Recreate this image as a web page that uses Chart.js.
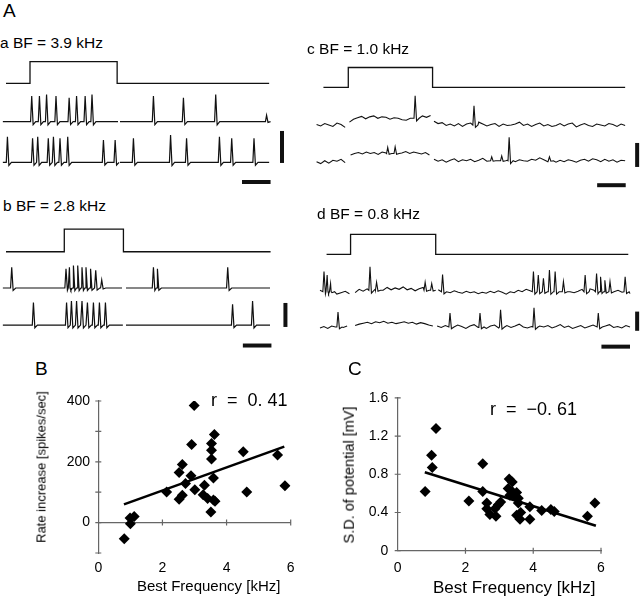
<!DOCTYPE html>
<html>
<head>
<meta charset="utf-8">
<script src="https://cdn.jsdelivr.net/npm/chart.js@4.4.1/dist/chart.umd.min.js"></script>
<style>
  body { margin: 0; background: #fff; }
  #fig { position: relative; width: 640px; height: 596px; overflow: hidden;
         font-family: "Liberation Sans", Arial, sans-serif; color: #000; }
  #fig canvas { position: absolute; }
  .t { position: absolute; white-space: pre; line-height: 1; }
  .rot { position: absolute; white-space: pre; line-height: 1; transform: translate(-50%, -50%) rotate(-90deg); }
</style>
</head>
<body>
<div id="fig">
  <canvas id="ca" width="290" height="135" style="left:0;top:55px"></canvas>
  <canvas id="cb" width="290" height="135" style="left:0;top:215px"></canvas>
  <canvas id="cc" width="330" height="135" style="left:310px;top:55px"></canvas>
  <canvas id="cd" width="330" height="135" style="left:310px;top:215px"></canvas>
  <canvas id="cB" width="320" height="216" style="left:0;top:380px"></canvas>
  <canvas id="cC" width="320" height="216" style="left:320px;top:380px"></canvas>

  <div class="t" style="left:3px;top:1px;font-size:19px">A</div>
  <div class="t" style="left:0px;top:35px;font-size:15.5px">a BF = 3.9 kHz</div>
  <div class="t" style="left:3px;top:198px;font-size:15.5px">b BF = 2.8 kHz</div>
  <div class="t" style="left:307px;top:41px;font-size:15.5px">c BF = 1.0 kHz</div>
  <div class="t" style="left:317px;top:206px;font-size:15.5px">d BF = 0.8 kHz</div>

  <div class="t" style="left:35px;top:359px;font-size:19px">B</div>
  <div class="t" style="left:348px;top:359px;font-size:19px">C</div>
  <div class="t" style="left:211px;top:391px;font-size:18px">r  =  0. 41</div>
  <div class="t" style="left:490px;top:400px;font-size:18px">r  =  −0. 61</div>
  <div class="rot" style="left:41px;top:467px;font-size:13px">Rate increase [spikes/sec]</div>
  <div class="rot" style="left:349px;top:475px;font-size:14.5px">S.D. of potential [mV]</div>
  <div class="t" style="left:137px;top:578px;font-size:15px">Best Frequency [kHz]</div>
  <div class="t" style="left:433px;top:579px;font-size:17px">Best Frequency [kHz]</div>
</div>

<script>
Chart.defaults.font.family = '"Liberation Sans", Arial, sans-serif';
Chart.defaults.color = '#000';

// ---------- A: example recordings (t in ms, v in mV above resting level) ----------
// tone marker: [trace start, tone on, tone off, trace end]
const toneA = [21, 105, 410, 942];
const toneB = [21, 225, 432, 947];
const toneC = [47, 134, 429, 1103];
const toneD = [58, 142, 440, 1114];

// a  BF = 3.9 kHz
const aRec1Segs = [[10, 413], [420, 942]];
const aRec1Spikes = [111, 138, 163, 196, 242, 268, 298, 322, 537, 642, 755, 933];
const aRec1Amps = [16, 16, 17, 16, 15, 16, 16, 17, 16, 15, 17, 4];
const aRec2Segs = [[10, 413], [420, 942]];
const aRec2Spikes = [26, 114, 132, 169, 187, 210, 237, 362, 403, 467, 597, 653, 768, 811, 889];
const aRec2Amps = [16, 15, 16, 15, 16, 15, 16, 14, 14, 15, 17, 15, 16, 15, 15];

// b  BF = 2.8 kHz
const bRec1Segs = [[10, 427], [441, 945]];
const bRec1Spikes = [41, 231, 243, 257, 272, 287, 301, 317, 335, 356, 537, 551, 797];
const bRec1Amps = [13, 12, 13, 14, 14, 13, 13, 12, 11, 5, 13, 12, 13];
const bRec2Segs = [[10, 430], [441, 945]];
const bRec2Spikes = [117, 233, 250, 268, 287, 306, 327, 348, 369, 814, 884];
const bRec2Amps = [14, 14, 15, 15, 15, 14, 14, 14, 14, 13, 15];

// c  BF = 1.0 kHz (pre, tone, post pieces)
const cRec1Segs = [[23, 123], [138, 422], [434, 1103]];
const cRec1Base = [0, 1.4, 0];
const cRec1Noise = [
  [0.1, -0.2, 0.3, 0, -0.3, 0.4, 0.1, -0.5],
  [-0.8, -0.2, 0.1, 0.4, -0.1, 0.3, 0.5, 0, 0.3, 0.2, -0.2, 0.1, 0, -0.3, -0.4, 0, -0.2, 0.3, 0.5, 0.2, 0.6],
  [0.8, 0.3, 0.5, -0.1, 0.2, -0.2, 0.3, -0.3, 0.2, 0.4, -0.1, 0.6, 0.2, -0.2, 0.1, 0.3, -0.3, 0.2, -0.1, 0,
   0.2, 0.6, -0.1, 0.2, -0.3, 0.1, 0.4, -0.2, 0.1, -0.3, -0.1, 0.3, -0.2, 0.2, 0.4, -0.4, 0, 0.3, -0.1, -0.3,
   0.2, 0, -0.2, 0.3, 0.1, -0.3, 0.2, -0.1]
];
const cRec1Spikes = [368, 574];
const cRec1Amps = [4.7, 4.0];
const cRec2Segs = [[23, 123], [142, 418], [434, 1103]];
const cRec2Base = [0, 1.7, 0.2];
const cRec2Noise = [
  [0, -0.4, 0.2, -0.3, 0.3, 0.1, 0.5, -0.2],
  [-0.3, 0, 0.2, -0.1, 0.3, 0, 0.2, -0.2, 0.3, 0.1, 0.2, 0.1, 0.4, 0.1, 0.4, 0, 0.3, 0.1, -0.1, 0.2, -0.3],
  [0.3, -0.1, 0.2, -0.3, 0.1, 0.4, -0.2, 0.2, 0, 0.3, -0.2, 0.1, 0.5, -0.1, 0.2, 0.6, 0, -0.3, 0.1, 0.3,
   -0.2, 0.2, 0, -0.1, 0.3, 0.1, 0.6, 0.2, -0.2, 0, -0.3, 0.1, -0.2, 0.2, 0, -0.3, 0.1, 0.3, -0.1, 0.4,
   0.2, -0.2, 0.3, -0.1, 0.2, -0.3, 0.1, 0]
];
const cRec2Spikes = [272, 298, 636, 671, 697, 838];
const cRec2Amps = [1.3, 1.4, 0.8, 1.0, 4.9, 0.8];

// d  BF = 0.8 kHz
const dRec1Segs = [[35, 138], [158, 438], [449, 1120]];
const dRec1Base = [0, 0.3, 0];
const dRec1Noise = [
  [0.3, 0, 0.4, -0.3, -0.5, -0.2, 0.1, -0.4],
  [-0.5, 0.2, -0.2, 0.3, 0.6, 0.2, 0.5, 0, 0.6, 0.1, 0.5, 0.2, 0.7, 0.1, 0.4, -0.1, 0.3, 0.6, 0, 0.5, 0.2],
  [0.4, 0.5, 0, -0.2, 0.2, -0.1, -0.3, 0.1, -0.2, 0, -0.4, -0.1, -0.3, 0.1, -0.2, 0.2, -0.1, -0.5, 0, -0.2,
   0.3, 0, 0.5, 0.2, 0.4, 0.1, 0.6, 0.3, 0.2, 0.5, 0, -0.1, 0.3, 0, -0.2, 0.1, 0.5, 0.2, 0.6, 0.3,
   0.4, 0.7, 0.2, 0.6, 0.1, 0.3, -0.1, 0, -0.4]
];
const dRec1Spikes = [49, 60, 72, 210, 233, 403, 426, 464, 782, 799, 817, 838, 858, 887, 963, 1003, 1017, 1032, 1050, 1103];
const dRec1Amps = [4.2, 3.5, 1.7, 4.9, 1.7, 1.7, 1.4, 3.6, 4.2, 3.5, 2.8, 4.5, 4.2, 2.1, 3.5, 3.8, 3.1, 2.4, 2.1, 3.1];
const dRec2Segs = [[35, 130], [158, 430], [445, 1120]];
const dRec2Base = [0, 0.6, 0];
const dRec2Noise = [
  [-0.2, 0.1, -0.3, 0.2, 0, 0.4, -0.1, 0.2],
  [-0.3, 0, 0.2, 0.4, 0.1, 0.5, 0.3, 0.6, 0.2, 0.4, 0.1, 0.3, 0.5, 0.2, 0.4, 0, 0.3, 0.1, -0.2, -0.4],
  [0.2, -0.1, 0.3, 0, -0.2, 0.4, 0.1, -0.3, 0.2, 0.5, -0.1, 0.1, -0.3, 0.2, 0.4, -0.2, 0, 0.3, -0.1, 0.2,
   0.6, 0, -0.2, 0.1, -0.4, 0.2, 0, 0.3, -0.2, 0.1, 0.5, -0.1, 0.2, -0.3, 0, 0.3, -0.2, 0.1, 0.4, 0,
   -0.3, 0.2, 0.5, -0.1, 0.1, -0.2, 0.3, 0]
];
const dRec2Spikes = [98, 490, 595, 667, 784, 1009];
const dRec2Amps = [3.1, 2.9, 2.9, 3.6, 4.0, 2.9];

// scale bars
const barMs = 100;
const barMvA = 20, barMvB = 15, barMvC = 5, barMvD = 4;

// ---------- B, C: population data ----------
const bfRate = [2.99, 3.62, 2.91, 3.53, 3.53, 3.53, 4.52, 5.59, 2.62, 2.52, 2.89, 3.59, 2.72, 3.31, 3.01,
                2.13, 2.62, 2.52, 3.27, 3.41, 3.59, 3.64, 4.63, 5.82, 3.51, 1.12, 0.99, 1.0, 0.81];
const rateIncrease = [385, 290, 257, 260, 238, 209, 233, 222, 191, 165, 154, 147, 129, 123, 108,
                      101, 90, 77, 92, 79, 74, 70, 101, 121, 35, 20, 15, -4, -53];
const fitRateX = [0.8, 5.8];
const fitRateY = [60, 250];

const bfSD = [1.13, 1.0, 1.02, 0.81, 2.51, 2.51, 2.1, 3.29, 3.38, 3.26, 3.38, 3.51, 3.31, 3.46, 3.56, 3.56, 2.63,
              2.63, 3.04, 2.97, 2.87, 2.72, 2.9, 3.9, 3.63, 3.51, 3.61, 3.9, 4.25, 4.52, 4.62, 5.6, 5.82];
const sdPotential = [1.28, 1.0, 0.87, 0.62, 0.91, 0.62, 0.52, 0.75, 0.72, 0.65, 0.62, 0.61, 0.58, 0.57, 0.55, 0.5, 0.5,
                     0.44, 0.51, 0.48, 0.44, 0.38, 0.36, 0.46, 0.4, 0.37, 0.33, 0.33, 0.42, 0.43, 0.41, 0.36, 0.5];
const fitSdX = [0.8, 5.85];
const fitSdY = [0.82, 0.26];

// ---------- helpers ----------
const MS_PER_PX = 3.5;

function tonePts([t0, on, off, t1], step, offset) {
  return [{x: t0, y: offset}, {x: on, y: offset}, {x: on, y: offset + step},
          {x: off, y: offset + step}, {x: off, y: offset}, {x: t1, y: offset}];
}

// one recording: pieces of trace, each with its own level and noise, spikes inserted
function trace(segs, bases, noise, spikes, amps, offset) {
  const pts = [];
  segs.forEach(([t0, t1], k) => {
    const n = noise ? noise[k] : [0, 0];
    const b = offset + (bases ? bases[k] : 0);
    const dt = (t1 - t0) / (n.length - 1);
    const seg = [];
    n.forEach((v, i) => {
      const t = t0 + i * dt;
      if (!spikes.some(s => t > s - 5 && t < s + 15)) seg.push({x: t, y: b + v});
    });
    spikes.forEach((s, j) => {
      if (s < t0 || s > t1) return;
      const a = amps[j];
      seg.push({x: s - 4, y: b}, {x: s, y: b + a}, {x: s + 5, y: b - 0.12 * a}, {x: s + 14, y: b});
    });
    seg.sort((p, q) => p.x - q.x);
    if (k) pts.push({x: t0 - 1, y: null});
    pts.push(...seg);
  });
  return pts;
}

const line = (data, w) => ({data, showLine: true, borderColor: '#111', borderWidth: w, spanGaps: false});

function recordingChart(id, mvPerPx, datasets) {
  const cv = document.getElementById(id);
  return new Chart(cv, {
    type: 'scatter',
    data: {datasets},
    options: {
      responsive: false, animation: false, events: [],
      layout: {padding: 0},
      elements: {point: {radius: 0}, line: {tension: 0}},
      plugins: {legend: {display: false}, tooltip: {enabled: false}},
      scales: {
        x: {display: false, min: 0, max: cv.width * MS_PER_PX},
        y: {display: false, min: 0, max: cv.height * mvPerPx}
      }
    }
  });
}

function scaleBars(tV, vV, mv, tH, vH) {
  return [line([{x: tV, y: vV}, {x: tV, y: vV + mv}], 4),
          line([{x: tH, y: vH}, {x: tH + barMs, y: vH}], 4)];
}

recordingChart('ca', 0.625, [
  line(tonePts(toneA, 13.5, 66.7), 1.3),
  line(trace(aRec1Segs, null, null, aRec1Spikes, aRec1Amps, 42.7), 1.2),
  line(trace(aRec2Segs, null, null, aRec2Spikes, aRec2Amps, 17.3), 1.2),
  ...scaleBars(987, 16.9, barMvA, 847, 5.0)
]);
recordingChart('cb', 0.625, [
  line(tonePts(toneB, 14.2, 61.4), 1.3),
  line(trace(bRec1Segs, null, null, bRec1Spikes, bRec1Amps, 38.75), 1.2),
  line(trace(bRec2Segs, null, null, bRec2Spikes, bRec2Amps, 15.6), 1.2),
  ...scaleBars(999, 14.4, barMvB, 850, 2.8)
]);
recordingChart('cc', 5 / 24, [
  line(tonePts(toneC, 4.12, 21.4), 1.3),
  line(trace(cRec1Segs, cRec1Base, cRec1Noise, cRec1Spikes, cRec1Amps, 13.54), 1.1),
  line(trace(cRec2Segs, cRec2Base, cRec2Noise, cRec2Spikes, cRec2Amps, 5.9), 1.1),
  ...scaleBars(1145, 4.8, barMvC, 1005, 1.0)
]);
recordingChart('cd', 5 / 24, [
  line(tonePts(toneD, 4.17, 19.93), 1.3),
  line(trace(dRec1Segs, dRec1Base, dRec1Noise, dRec1Spikes, dRec1Amps, 12.14), 1.1),
  line(trace(dRec2Segs, dRec2Base, dRec2Noise, dRec2Spikes, dRec2Amps, 4.79), 1.1),
  ...scaleBars(1145, 4.0, barMvD, 1020, 0.7)
]);

// tick marks that cross the axis lines (x ticks on y = 0, y ticks on x = 0)
const crossTicks = {
  id: 'crossTicks',
  afterDraw(chart, args, opts) {
    const {ctx, scales} = chart;
    const xAt = scales.x.getPixelForValue(0), yAt = scales.y.getPixelForValue(0);
    ctx.save();
    ctx.strokeStyle = opts.color;
    ctx.lineWidth = opts.width;
    ctx.beginPath();
    scales.y.ticks.forEach(t => {
      const p = scales.y.getPixelForValue(t.value);
      ctx.moveTo(xAt - opts.size, p); ctx.lineTo(xAt + opts.size, p);
    });
    scales.x.ticks.forEach(t => {
      if (t.value === 0) return;
      const p = scales.x.getPixelForValue(t.value);
      ctx.moveTo(p, yAt - opts.size); ctx.lineTo(p, yAt + opts.size);
    });
    ctx.stroke();
    ctx.restore();
  }
};

const axisColor = '#666';
const tickFont = {size: 14};
const noGrid = {display: false, drawTicks: false};

function scatterChart(id, xs, ys, fx, fy, pad, scales) {
  return new Chart(document.getElementById(id), {
    type: 'scatter',
    data: {
      datasets: [
        {data: xs.map((x, i) => ({x, y: ys[i]})), pointStyle: 'rectRot', pointRadius: 5.5,
         backgroundColor: '#000', borderWidth: 0},
        {data: fx.map((x, i) => ({x, y: fy[i]})), showLine: true, pointRadius: 0,
         borderColor: '#000', borderWidth: 2.6}
      ]
    },
    options: {
      responsive: false, animation: false, events: [],
      layout: {padding: pad},
      plugins: {legend: {display: false}, tooltip: {enabled: false},
                crossTicks: {size: 3, width: 1.2, color: axisColor}},
      scales
    },
    plugins: [crossTicks]
  });
}

scatterChart('cB', bfRate, rateIncrease, fitRateX, fitRateY,
  {left: 0, right: 29.3, top: 21, bottom: 0}, {
    x: {type: 'linear', min: 0, max: 6, position: 'bottom',
        afterFit: s => { s.height = 43; },
        grid: noGrid, border: {display: false},
        ticks: {stepSize: 2, padding: 7, font: tickFont, color: '#000'}},
    x0: {type: 'linear', min: 0, max: 6, position: {y: 0},
         grid: noGrid, border: {color: axisColor, width: 1.2},
         ticks: {display: false, stepSize: 2}},
    y: {type: 'linear', min: -100, max: 400,
        afterFit: s => { s.width = 98.3; },
        grid: noGrid, border: {color: axisColor, width: 1.2},
        ticks: {stepSize: 100, padding: 8.3, font: tickFont, color: '#000',
                callback: v => (v >= 0 && v % 200 === 0) ? v : ''}}
  });

scatterChart('cC', bfSD, sdPotential, fitSdX, fitSdY,
  {left: 0, right: 39, top: 13, bottom: 0}, {
    x: {type: 'linear', min: 0, max: 6, position: 'bottom',
        afterFit: s => { s.height = 45.3; },
        grid: noGrid, border: {color: axisColor, width: 1.2},
        ticks: {stepSize: 2, padding: 9.2, font: tickFont, color: '#000'}},
    y: {type: 'linear', min: 0, max: 1.6,
        afterFit: s => { s.width = 77.7; },
        grid: noGrid, border: {color: axisColor, width: 1.2},
        ticks: {stepSize: 0.4, padding: 9.4, font: tickFont, color: '#000',
                callback: v => v === 0 ? '0' : v.toFixed(1)}}
  });
</script>
</body>
</html>
